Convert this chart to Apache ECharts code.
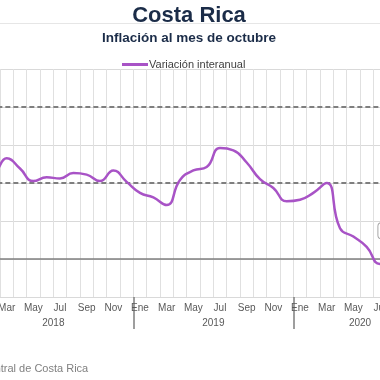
<!DOCTYPE html>
<html><head><meta charset="utf-8">
<script src="https://cdn.jsdelivr.net/npm/echarts@6/dist/echarts.min.js"></script>
<style>
html,body{margin:0;padding:0;width:380px;height:380px;overflow:hidden;background:#fff}
#c{position:absolute;left:-120px;top:0;width:560px;height:380px}
</style>
</head><body><div id="c"></div>
<script>
// ---- data ----
const monthNames = ['Ene','Feb','Mar','Abr','May','Jun','Jul','Ago','Sep','Oct','Nov','Dic'];
const years = ['2018','2019','2020'];
const monthsPerYear = [12, 12, 10];
const inflation2018 = [2.45, 2.30, 2.65, 2.38, 2.05, 2.15, 2.12, 2.26, 2.22, 2.05, 2.33, 2.03];
const inflation2019 = [1.74, 1.62, 1.42, 2.08, 2.33, 2.42, 2.92, 2.86, 2.54, 2.10, 1.87, 1.52];
const inflation2020 = [1.56, 1.74, 2.00, 0.81, 0.59, 0.32, -0.13, 0.05, 0.30, 0.32];
const targetBand = [2, 4];
const zeroLine = 0;
const yMin = -1, yMax = 5, yStep = 1;
const seriesName = 'Variación interanual';
const titleText = 'Costa Rica';
const subtitleText = 'Inflación al mes de octubre';
const sourceText = 'Fuente: Banco Central de Costa Rica';

// ---- build ----
const categories = [];
years.forEach((y, i) => { for (let m = 0; m < monthsPerYear[i]; m++) categories.push(monthNames[m]); });
const values = inflation2018.concat(inflation2019, inflation2020);
const total = categories.length;
const yearStarts = []; let acc = 0;
monthsPerYear.forEach(n => { yearStarts.push(acc); acc += n; });
const yearBounds = yearStarts.concat([acc]);
const yearCenters = yearStarts.map((s, i) => s + monthsPerYear[i] / 2);

const seriesData = values.map((v, i) => {
  if (i === values.length - 1) {
    return {
      value: v,
      label: {
        show: true, position: 'inside', offset: [-21, -16],
        formatter: p => String(p.value).replace('.', ',') + '%',
        fontFamily: 'Liberation Sans', fontSize: 11, color: '#404040',
        backgroundColor: '#fff', borderColor: '#a6a6a6', borderWidth: 1, borderRadius: 3,
        padding: [2, 5]
      }
    };
  }
  return v;
});

const chart = echarts.init(document.getElementById('c'), null, {renderer: 'canvas'});
const OX = 120; // offset of visible window in container
const monthW = 160 / 12;
const gridLeft = OX - 2 * monthW;
const gridWidth = total * monthW;

chart.setOption({
  animation: false,
  backgroundColor: '#fff',
  graphic: [
    {type: 'line', z: 0, shape: {x1: 0, y1: 23.5, x2: 560, y2: 23.5}, style: {stroke: '#e6e6e6', lineWidth: 1}},
    {type: 'text', z: 10, x: OX + 189, y: 16, style: {text: titleText, fill: '#1b2c48', font: 'bold 22px "Liberation Sans", Arial', textAlign: 'center', textVerticalAlign: 'middle'}},
    {type: 'text', z: 10, x: OX + 189, y: 38, style: {text: subtitleText, fill: '#1b2c48', font: 'bold 13.5px "Liberation Sans", Arial', textAlign: 'center', textVerticalAlign: 'middle'}},
    {type: 'text', z: 10, x: OX - 94, y: 369, style: {text: sourceText, fill: '#808080', font: '11px "Liberation Sans", Arial', textAlign: 'left', textVerticalAlign: 'middle'}}
  ],
  legend: {
    data: [seriesName], left: OX + 117, top: 54, icon: 'rect', itemWidth: 26, itemHeight: 3,
    textStyle: {fontFamily: 'Liberation Sans', fontSize: 11, color: '#404040', padding: [0, 0, 0, -4]}
  },
  grid: {left: gridLeft, width: gridWidth, top: 69, bottom: 83, containLabel: false},
  xAxis: [
    {
      type: 'category', data: categories, boundaryGap: true,
      axisLine: {show: true, lineStyle: {color: '#d9d9d9', width: 1}},
      axisTick: {show: false},
      splitLine: {show: true, interval: 0, lineStyle: {color: '#e0e0e0', width: 1}},
      axisLabel: {interval: 1, margin: 6, fontFamily: 'Liberation Sans', fontSize: 10, color: '#595959'}
    },
    {
      type: 'value', min: 0, max: total, position: 'bottom',
      axisLine: {show: false},
      splitLine: {show: false},
      axisTick: {show: true, inside: false, length: 32, customValues: yearBounds, lineStyle: {color: '#7f7f7f', width: 1.5}},
      axisLabel: {show: true, margin: 21, customValues: yearCenters, fontFamily: 'Liberation Sans', fontSize: 10, color: '#595959',
        formatter: v => { const i = yearCenters.indexOf(v); return i >= 0 ? years[i] : ''; }}
    }
  ],
  yAxis: {
    type: 'value', min: yMin, max: yMax, interval: yStep,
    axisLine: {show: false}, axisTick: {show: false}, axisLabel: {show: false},
    splitLine: {show: true, lineStyle: {color: '#d9d9d9', width: 1}}
  },
  series: [{
    name: seriesName, type: 'line', data: seriesData, xAxisIndex: 0,
    smooth: 0.5, showSymbol: true, symbol: 'circle', symbolSize: 0,
    lineStyle: {color: '#a853c6', width: 2.5}, itemStyle: {color: '#a853c6'},
    z: 5,
    markLine: {
      silent: true, symbol: 'none', label: {show: false},
      data: targetBand.map(v => ({yAxis: v, lineStyle: {color: '#7f7f7f', width: 2, type: [5, 3]}}))
        .concat([{yAxis: zeroLine, lineStyle: {color: '#7f7f7f', width: 1.5, type: 'solid'}}])
    }
  }]
});
</script>
</body></html>
